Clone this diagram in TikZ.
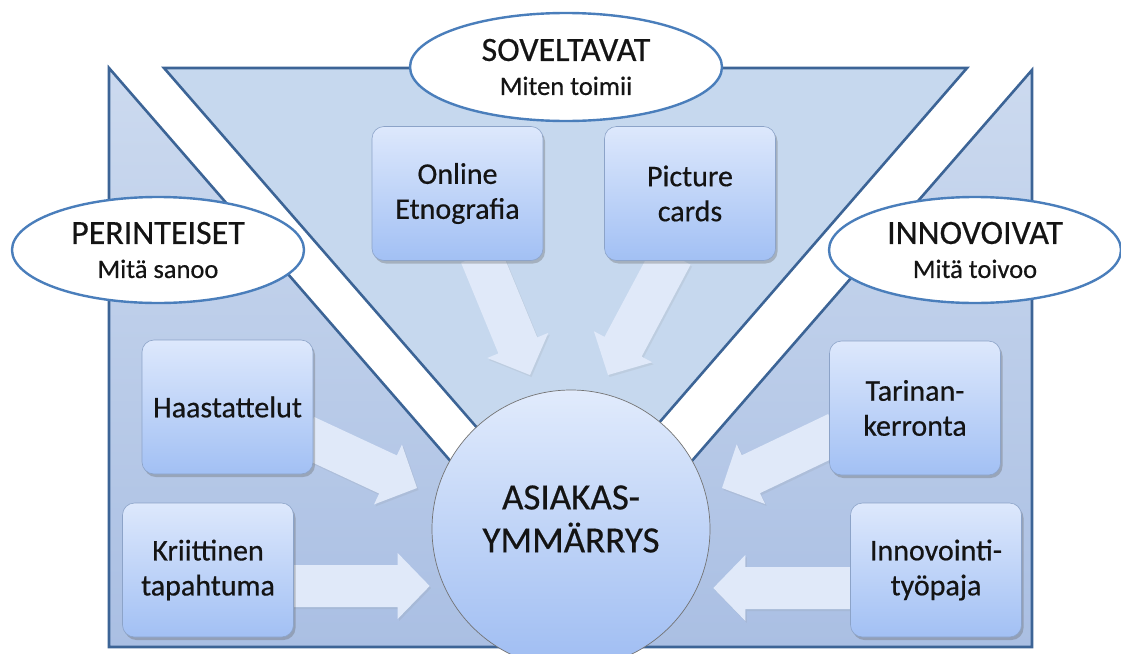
\documentclass[tikz,border=0pt]{standalone}
\usepackage{fontspec}
\setmainfont{Carlito}[FakeBold=0.5]
\usetikzlibrary{calc,shapes.geometric,shadows}

\definecolor{panelline}{HTML}{3C6496}
\definecolor{sidetop}{HTML}{CCDAEF}
\definecolor{sidebottom}{HTML}{AABFE3}
\definecolor{toppanel}{HTML}{C6D8EE}
\definecolor{boxtop}{HTML}{DDE8FC}
\definecolor{boxbottom}{HTML}{A2C0F4}
\definecolor{boxline}{HTML}{8CA3C8}
\definecolor{arrowfill}{HTML}{E0E9F9}
\definecolor{ellline}{HTML}{4A7EBB}
\definecolor{coretop}{HTML}{E1EBFC}
\definecolor{corebottom}{HTML}{9FBDF2}
\definecolor{inktext}{HTML}{141414}

\newcommand\boxfont{\fontsize{30}{35}\selectfont}
\newcommand\headfont{\fontsize{34}{38}\selectfont}
\newcommand\subfont{\fontsize{26.5}{34}\selectfont}
\newcommand\corefont{\fontsize{37}{43}\selectfont}

\pgfdeclarelayer{back}
\pgfsetlayers{back,main}

% block arrow from coordinate #1 (tail) to coordinate #2 (tip)
\newcommand\blockarrow[2]{%
  \coordinate (#1-hb) at ($(#2)!32pt!(#1)$);
  \fill[flowarrow]
    ($(#1)!21pt!90:(#2)$) -- ($(#1-hb)!21pt!90:(#2)$) -- ($(#1-hb)!33pt!90:(#2)$)
    -- (#2)
    -- ($(#1-hb)!33pt!-90:(#2)$) -- ($(#1-hb)!21pt!-90:(#2)$) -- ($(#1)!21pt!-90:(#2)$)
    -- cycle;}

\begin{document}
\begin{tikzpicture}[x=1pt,y=-1pt,
  sidepanel/.style={draw=panelline, line width=2.6pt, line join=miter,
    top color=sidetop, bottom color=sidebottom},
  toppanelstyle/.style={draw=panelline, line width=2.6pt, line join=miter, fill=toppanel},
  methodbox/.style={rectangle, rounded corners=12pt, minimum width=171pt, minimum height=134pt,
    top color=boxtop, bottom color=boxbottom, draw=boxline, line width=0.6pt,
    align=center, font=\boxfont, text=inktext, inner sep=0pt,
    drop shadow={shadow xshift=2pt, shadow yshift=-3pt, opacity=0.35, fill=black!60}},
  groupellipse/.style={ellipse, draw=ellline, line width=2.4pt, fill=white,
    inner sep=0pt, align=center, text=inktext, font=\subfont},
  flowarrow/.style={fill=arrowfill,
    drop shadow={shadow xshift=1.5pt, shadow yshift=-2pt, opacity=0.12}},
  corecircle/.style={circle, minimum size=278pt, inner sep=0pt,
    top color=coretop, bottom color=corebottom, draw=black!55, line width=0.7pt},
]
\useasboundingbox (0,0) rectangle (1121,653);

% method boxes
\node[methodbox] (onl) at (457.5,193.5) {Online\\Etnografia};
\node[methodbox] (pic) at (690,193.5) {Picture\\cards};
\node[methodbox] (hst) at (227.5,407) {Haastattelut};
\node[methodbox] (krt) at (208,570) {Kriittinen\\tapahtuma};
\node[methodbox] (tar) at (915,408) {Tarinan-\\kerronta};
\node[methodbox] (inn) at (936,570) {Innovointi-\\työpaja};

% centre
\node[corecircle] (core) at (571,529) {};
\node[align=center, font=\corefont, text=inktext] (coretext) at (571,519) {ASIAKAS-\\YMMÄRRYS};

% arrow tails (under the boxes) and tips (at the centre)
\coordinate (a1) at ($(onl.south)+(23,-6)$);  \coordinate (t1) at (530,375);
\coordinate (a2) at ($(pic.south)+(-18,-6)$); \coordinate (t2) at (608,375);
\coordinate (a3) at ($(hst.east)+(-8,29)$);   \coordinate (t3) at (417,488);
\coordinate (a4) at ($(krt.east)+(-8,16)$);   \coordinate (t4) at ($(core.west)+(-2,57)$);
\coordinate (a5) at ($(tar.west)+(8,25)$);    \coordinate (t5) at (722,488);
\coordinate (a6) at ($(inn.west)+(8,18)$);    \coordinate (t6) at ($(core.east)+(3,59)$);

\begin{pgfonlayer}{back}
  % three sectors around the centre
  \path[sidepanel] (109,68) -- (109,647) -- (612,647) -- cycle;
  \path[sidepanel] (1032,70) -- (1032,647) -- (530,647) -- cycle;
  \path[toppanelstyle] (164,68) -- (967,68) -- (566,530) -- cycle;
  % flows into the centre
  \blockarrow{a1}{t1}
  \blockarrow{a2}{t2}
  \blockarrow{a3}{t3}
  \blockarrow{a4}{t4}
  \blockarrow{a5}{t5}
  \blockarrow{a6}{t6}
\end{pgfonlayer}

% group labels
\node[groupellipse, minimum width=312pt, minimum height=108pt] (sov) at (566,67)
  {{\headfont SOVELTAVAT}\\Miten toimii};
\node[groupellipse, minimum width=292pt, minimum height=106pt] (per) at (158,250)
  {{\headfont PERINTEISET}\\Mitä sanoo};
\node[groupellipse, minimum width=292pt, minimum height=106pt] (inv) at (975,250)
  {{\headfont INNOVOIVAT}\\Mitä toivoo};
\end{tikzpicture}
\end{document}
